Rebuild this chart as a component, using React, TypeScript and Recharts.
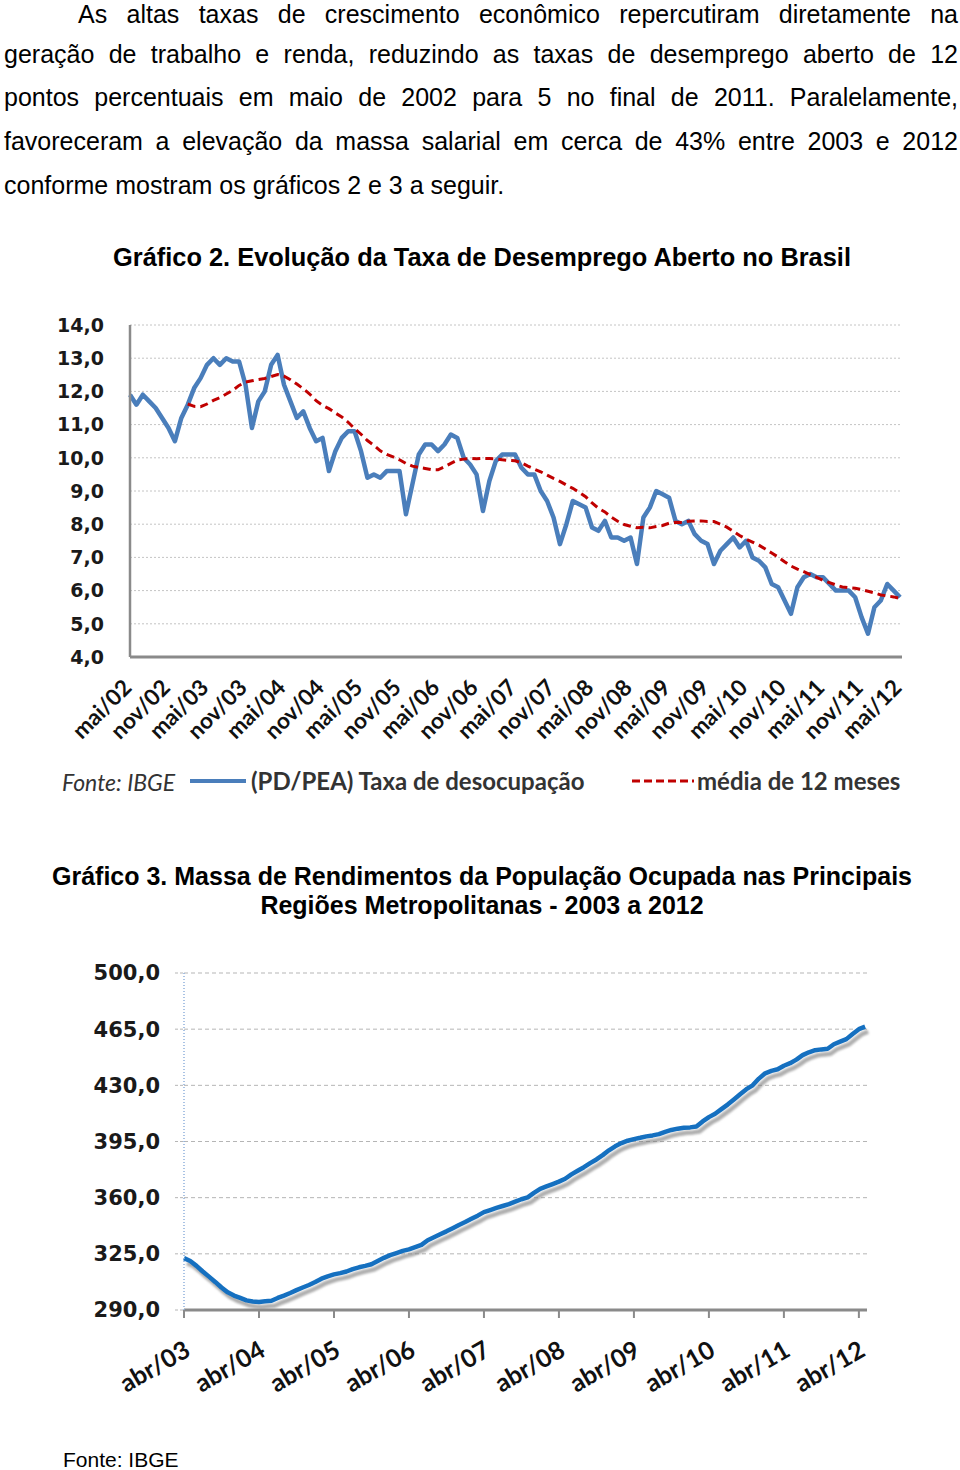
import React from 'react';
import { LineChart, Line, XAxis, YAxis, CartesianGrid } from 'recharts';

const FONT_TEXT = '"Liberation Sans", Arial, sans-serif';
const FONT_NUM = '"DejaVu Sans", Verdana, sans-serif';
const FONT_CAT = 'Lato, "Open Sans", sans-serif';

// Gráfico 2 - taxa de desocupação (%), mai/02 a mai/12
const desemprego = [
  11.9, 11.6, 11.9, 11.7, 11.5, 11.2, 10.9, 10.5,
  11.2, 11.6, 12.1, 12.4, 12.8, 13.0, 12.8, 13.0, 12.9, 12.9, 12.2, 10.9,
  11.7, 12.0, 12.8, 13.1, 12.2, 11.7, 11.2, 11.4, 10.9, 10.5, 10.6, 9.6,
  10.2, 10.6, 10.8, 10.8, 10.2, 9.4, 9.5, 9.4, 9.6, 9.6, 9.6, 8.3,
  9.2, 10.1, 10.4, 10.4, 10.2, 10.4, 10.7, 10.6, 10.0, 9.8, 9.5, 8.4,
  9.3, 9.9, 10.1, 10.1, 10.1, 9.7, 9.5, 9.5, 9.0, 8.7, 8.2, 7.4,
  8.0, 8.7, 8.6, 8.5, 7.9, 7.8, 8.1, 7.6, 7.6, 7.5, 7.6, 6.8,
  8.2, 8.5, 9.0, 8.9, 8.8, 8.1, 8.0, 8.1, 7.7, 7.5, 7.4, 6.8,
  7.2, 7.4, 7.6, 7.3, 7.5, 7.0, 6.9, 6.7, 6.2, 6.1, 5.7, 5.3,
  6.1, 6.4, 6.5, 6.4, 6.4, 6.2, 6.0, 6.0, 6.0, 5.8, 5.2, 4.7,
  5.5, 5.7, 6.2, 6.0, 5.8,
];

// média de 12 meses, começa em fev/03
const MEDIA_INICIO = 9;
const media12 = [
  11.62, 11.55, 11.54, 11.62, 11.73, 11.81, 11.92, 12.03, 12.18, 12.28,
  12.32, 12.36, 12.39, 12.45, 12.51, 12.46, 12.35, 12.22, 12.08, 11.92,
  11.72, 11.58, 11.48, 11.35, 11.23, 11.07, 10.88, 10.71, 10.52, 10.38,
  10.21, 10.10, 10.03, 9.94, 9.83, 9.75, 9.71, 9.68, 9.64, 9.64,
  9.73, 9.83, 9.93, 9.96, 9.98, 9.97, 9.98, 9.98, 9.97, 9.94,
  9.92, 9.91, 9.85, 9.75, 9.66, 9.58, 9.48, 9.38, 9.29, 9.18,
  9.08, 8.96, 8.83, 8.64, 8.48, 8.37, 8.21, 8.09, 7.99, 7.94,
  7.89, 7.91, 7.89, 7.93, 7.96, 8.03, 8.06, 8.05, 8.09, 8.10,
  8.10, 8.08, 8.08, 8.00, 7.91, 7.79, 7.66, 7.55, 7.46, 7.37,
  7.25, 7.13, 7.01, 6.87, 6.74, 6.65, 6.57, 6.48, 6.40, 6.31,
  6.24, 6.17, 6.11, 6.09, 6.07, 6.03, 5.98, 5.93, 5.87, 5.84,
  5.81, 5.76,
];

const rotulos2 = [
  'mai/02', 'nov/02', 'mai/03', 'nov/03', 'mai/04', 'nov/04', 'mai/05',
  'nov/05', 'mai/06', 'nov/06', 'mai/07', 'nov/07', 'mai/08', 'nov/08',
  'mai/09', 'nov/09', 'mai/10', 'nov/10', 'mai/11', 'nov/11', 'mai/12',
];
const ticksY2 = [4, 5, 6, 7, 8, 9, 10, 11, 12, 13, 14];

// Gráfico 3 - massa de rendimentos, abr/03 a mai/12
const massa = [
  322.3, 320.5, 317.5, 314.0, 310.8, 307.5, 304.0, 301.0, 299.0, 297.5, 296.0, 295.3,
  295.0, 295.4, 295.8, 297.5, 299.0, 300.6, 302.4, 304.0, 305.6, 307.4, 309.5, 311.0,
  312.2, 313.0, 314.0, 315.5, 316.6, 317.5, 318.5, 320.5, 322.5, 324.2, 325.5, 326.8,
  327.8, 329.2, 330.6, 333.5, 335.3, 337.2, 339.0, 341.0, 343.0, 344.8, 346.8, 348.8,
  351.0, 352.3, 353.6, 354.8, 356.0, 357.5, 359.0, 360.2, 363.0, 365.5, 367.0, 368.5,
  370.0, 371.8, 374.5, 376.8, 379.0, 381.5, 383.8, 386.5, 389.5, 392.0, 394.0, 395.5,
  396.5, 397.3, 398.2, 398.8, 399.6, 401.0, 402.2, 403.0, 403.6, 403.8, 404.3, 407.5,
  410.2, 412.3, 415.2, 418.0, 421.2, 424.5, 427.6, 430.0, 434.2, 437.5, 439.0, 440.0,
  442.2, 443.8, 446.0, 448.8, 450.6, 451.9, 452.4, 452.8, 455.6, 457.2, 458.8, 462.0,
  465.0, 466.6,
];

const rotulos3 = [
  'abr/03', 'abr/04', 'abr/05', 'abr/06', 'abr/07',
  'abr/08', 'abr/09', 'abr/10', 'abr/11', 'abr/12',
];
const ticksY3 = [290, 325, 360, 395, 430, 465, 500];

const paragrafo = [
  'As altas taxas de crescimento econômico repercutiram diretamente na',
  'geração de trabalho e renda, reduzindo as taxas de desemprego aberto de 12',
  'pontos percentuais em maio de 2002 para 5 no final de 2011. Paralelamente,',
  'favoreceram a elevação da massa salarial em cerca de 43% entre 2003 e 2012',
  'conforme mostram os gráficos 2 e 3 a seguir.',
];

const dados2 = desemprego.map((v, i) => ({
  i,
  taxa: v,
  media: i >= MEDIA_INICIO ? media12[i - MEDIA_INICIO] : null,
}));
const dados3 = massa.map((v, i) => ({ i, massa: v }));

const virgula = (v: number) => v.toFixed(1).replace('.', ',');

function TickMes(props: any) {
  const { x, y, payload } = props;
  const ax = x + 3;
  const ay = y + 24;
  return (
    <text
      x={ax}
      y={ay}
      transform={`rotate(-45 ${ax} ${ay})`}
      textAnchor="end"
      fontFamily={FONT_CAT}
      fontWeight={700}
      fontSize={22.5}
      fill="#111"
    >
      {rotulos2[Math.round(payload.value / 6)]}
    </text>
  );
}

function TickAbr(props: any) {
  const { x, y, payload } = props;
  const ax = x + 8;
  const ay = y + 35;
  return (
    <text
      x={ax}
      y={ay}
      transform={`rotate(-30 ${ax} ${ay})`}
      textAnchor="end"
      fontFamily={FONT_CAT}
      fontWeight={700}
      fontSize={25}
      fill="#111"
    >
      {rotulos3[Math.round(payload.value / 12)]}
    </text>
  );
}

const abs = (left: number, top: number): React.CSSProperties => ({
  position: 'absolute',
  left,
  top,
});

const legendaTexto: React.CSSProperties = {
  fontFamily: FONT_CAT,
  fontWeight: 700,
  fontSize: 24,
  color: '#333',
  lineHeight: '28px',
  whiteSpace: 'nowrap',
};

export default function App() {
  return (
    <div
      style={{
        position: 'absolute',
        left: 0,
        top: 0,
        width: 960,
        height: 1470,
        overflow: 'hidden',
        background: '#fff',
        fontFamily: FONT_TEXT,
        color: '#000',
      }}
    >
      <style>{`.sombra .recharts-curve { filter: drop-shadow(3px 5px 1.2px rgba(120,120,120,0.6)); }`}</style>

      {/* texto: a primeira linha encosta no topo da página */}
      <div style={{ ...abs(4, 0), width: 954 }}>
        {paragrafo.map((linha, k) => (
          <div
            key={k}
            style={{
              fontSize: 25,
              lineHeight: k === 0 ? '28px' : '43.7px',
              height: k === 0 ? 32.5 : 43.7,
              textAlign: 'justify',
              textAlignLast: k < paragrafo.length - 1 ? 'justify' : 'left',
              textIndent: k === 0 ? 74 : 0,
            }}
          >
            {linha}
          </div>
        ))}
      </div>

      <div
        style={{
          ...abs(2, 243),
          width: 960,
          textAlign: 'center',
          fontSize: 25.4,
          fontWeight: 700,
          lineHeight: '29px',
        }}
      >
        Gráfico 2. Evolução da Taxa de Desemprego Aberto no Brasil
      </div>

      {/* Gráfico 2 */}
      <div style={abs(0, 300)}>
        <LineChart
          width={960}
          height={470}
          data={dados2}
          margin={{ top: 25, right: 58, bottom: 0, left: 50 }}
        >
          <CartesianGrid vertical={false} stroke="#c4c4c4" strokeDasharray="2 2" />
          <XAxis
            type="number"
            dataKey="i"
            domain={[0, 120.3]}
            ticks={rotulos2.map((_, k) => k * 6)}
            interval={0}
            tick={<TickMes />}
            tickLine={false}
            axisLine={{ stroke: '#8a8a8a', strokeWidth: 3 }}
            height={113}
          />
          <YAxis
            type="number"
            domain={[4, 14]}
            ticks={ticksY2}
            interval={0}
            tickFormatter={virgula}
            width={80}
            tickLine={false}
            tickMargin={20}
            axisLine={{ stroke: '#8a8a8a', strokeWidth: 2.5 }}
            tick={{ fill: '#1a1a1a', fontSize: 19, fontWeight: 700, fontFamily: FONT_NUM }}
          />
          <Line
            dataKey="taxa"
            type="linear"
            stroke="#4a7ebb"
            strokeWidth={4.5}
            strokeLinejoin="round"
            dot={false}
            activeDot={false}
            isAnimationActive={false}
          />
          <Line
            dataKey="media"
            type="linear"
            stroke="#c00000"
            strokeWidth={3}
            strokeDasharray="8 5"
            dot={false}
            activeDot={false}
            isAnimationActive={false}
          />
        </LineChart>
      </div>

      {/* legenda do gráfico 2 */}
      <div style={{ ...abs(62, 768), ...legendaTexto, fontWeight: 400, fontStyle: 'italic', fontSize: 23 }}>
        Fonte: IBGE
      </div>
      <svg style={abs(188, 776)} width={60} height={10}>
        <line x1={2} y1={5} x2={58} y2={5} stroke="#4a7ebb" strokeWidth={4} />
      </svg>
      <div style={{ ...abs(251, 767), ...legendaTexto }}>(PD/PEA) Taxa de desocupação</div>
      <svg style={abs(630, 776)} width={66} height={10}>
        <line x1={2} y1={5} x2={64} y2={5} stroke="#c00000" strokeWidth={3} strokeDasharray="8 4" />
      </svg>
      <div style={{ ...abs(697, 767), ...legendaTexto }}>média de 12 meses</div>

      <div
        style={{
          ...abs(2, 862),
          width: 960,
          textAlign: 'center',
          fontSize: 25,
          fontWeight: 700,
          lineHeight: '29px',
        }}
      >
        Gráfico 3. Massa de Rendimentos da População Ocupada nas Principais
        <br />
        Regiões Metropolitanas - 2003 a 2012
      </div>

      {/* Gráfico 3 */}
      <div style={abs(0, 950)} className="sombra">
        <LineChart
          width={960}
          height={460}
          data={dados3}
          margin={{ top: 23, right: 93, bottom: 0, left: 20 }}
        >
          <CartesianGrid vertical={false} stroke="#b5b5b5" strokeDasharray="4 3" />
          <XAxis
            type="number"
            dataKey="i"
            domain={[0, 109.3]}
            ticks={rotulos3.map((_, k) => k * 12)}
            interval={0}
            tick={<TickAbr />}
            tickSize={8}
            tickLine={{ stroke: '#8a8a8a', strokeWidth: 2 }}
            axisLine={{ stroke: '#8a8a8a', strokeWidth: 3 }}
            height={100}
          />
          <YAxis
            type="number"
            domain={[290, 500]}
            ticks={ticksY3}
            interval={0}
            tickFormatter={virgula}
            width={164}
            tickSize={9}
            tickMargin={15}
            tickLine={{ stroke: '#b5b5b5', strokeDasharray: '3 2' }}
            axisLine={{ stroke: '#8fb0dc', strokeWidth: 1.5, strokeDasharray: '1 2' }}
            tick={{ fill: '#1a1a1a', fontSize: 21, fontWeight: 700, fontFamily: FONT_NUM }}
          />
          <Line
            dataKey="massa"
            type="linear"
            stroke="#1570c0"
            strokeWidth={4.5}
            strokeLinejoin="round"
            dot={false}
            activeDot={false}
            isAnimationActive={false}
          />
        </LineChart>
      </div>

      <div style={{ ...abs(63, 1448), fontSize: 21, lineHeight: '24px' }}>Fonte: IBGE</div>
    </div>
  );
}
